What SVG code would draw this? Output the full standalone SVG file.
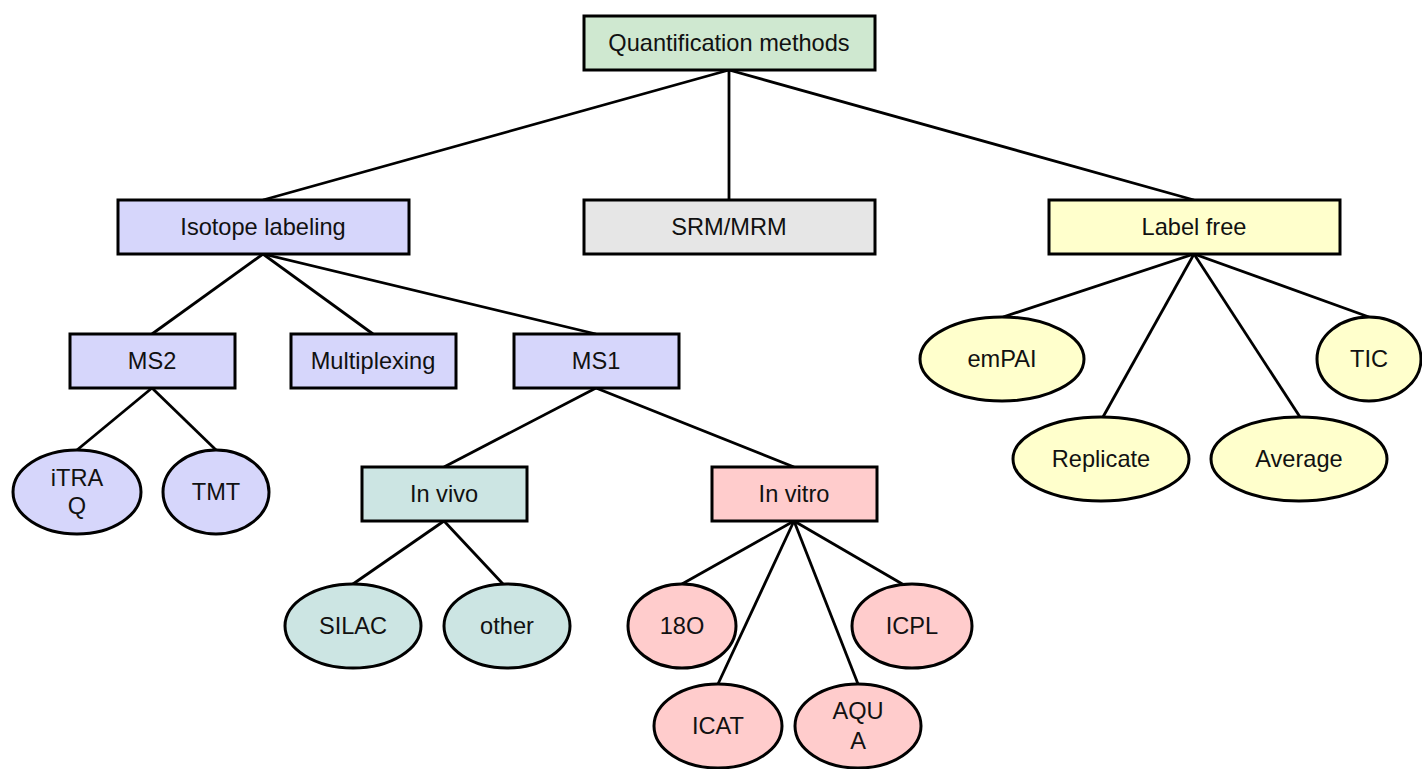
<svg xmlns="http://www.w3.org/2000/svg" width="1422" height="769" viewBox="0 0 1422 769">
<style>
.n{stroke:#000;stroke-width:3}
.t{font-family:"Liberation Sans",Arial,sans-serif;font-size:23.6px;fill:#111;text-anchor:middle}
.c line{stroke:#000;stroke-width:2.8}
.g{fill:#cfe8d0}.p{fill:#d6d6fb}.s{fill:#e6e6e6}.y{fill:#ffffcc}.q{fill:#cce5e3}.r{fill:#ffcccc}
</style>
<rect width="1422" height="769" fill="#fff"/>
<g class="c" id="connectors">
<line x1="729" y1="70" x2="263" y2="200"/>
<line x1="729" y1="70" x2="729" y2="200"/>
<line x1="729" y1="70" x2="1194" y2="200"/>
<line x1="263" y1="254" x2="152" y2="334"/>
<line x1="263" y1="254" x2="373" y2="334"/>
<line x1="263" y1="254" x2="596" y2="334"/>
<line x1="152" y1="388" x2="77" y2="450"/>
<line x1="152" y1="388" x2="216" y2="450"/>
<line x1="596" y1="388" x2="444" y2="467"/>
<line x1="596" y1="388" x2="794" y2="467"/>
<line x1="444" y1="521" x2="353" y2="584"/>
<line x1="444" y1="521" x2="503" y2="584"/>
<line x1="794" y1="521" x2="682" y2="584"/>
<line x1="794" y1="521" x2="718" y2="684"/>
<line x1="794" y1="521" x2="858" y2="684"/>
<line x1="794" y1="521" x2="904" y2="585"/>
<line x1="1194" y1="254" x2="1003" y2="317"/>
<line x1="1194" y1="254" x2="1369" y2="317"/>
<line x1="1194" y1="254" x2="1103" y2="417"/>
<line x1="1194" y1="254" x2="1300" y2="417"/>
</g>
<g id="quant"><rect class="n g" x="584" y="16" width="291" height="54"/><text class="t" x="729" y="51">Quantification methods</text></g>
<g id="isotope"><rect class="n p" x="118" y="200" width="291" height="54"/><text class="t" x="263" y="235">Isotope labeling</text></g>
<g id="srm"><rect class="n s" x="584" y="200" width="291" height="54"/><text class="t" x="729" y="235">SRM/MRM</text></g>
<g id="labelfree"><rect class="n y" x="1049" y="200" width="291" height="54"/><text class="t" x="1194" y="235">Label free</text></g>
<g id="ms2"><rect class="n p" x="70" y="334" width="165" height="54"/><text class="t" x="152" y="369">MS2</text></g>
<g id="multiplexing"><rect class="n p" x="291" y="334" width="165" height="54"/><text class="t" x="373" y="369">Multiplexing</text></g>
<g id="ms1"><rect class="n p" x="514" y="334" width="165" height="54"/><text class="t" x="596" y="369">MS1</text></g>
<g id="itraq"><ellipse class="n p" cx="77" cy="492" rx="64" ry="42"/><text class="t" x="77" y="486">iTRA</text><text class="t" x="77" y="514">Q</text></g>
<g id="tmt"><ellipse class="n p" cx="216" cy="492" rx="53" ry="42"/><text class="t" x="216" y="500">TMT</text></g>
<g id="invivo"><rect class="n q" x="362" y="467" width="165" height="54"/><text class="t" x="444" y="502">In vivo</text></g>
<g id="invitro"><rect class="n r" x="712" y="467" width="165" height="54"/><text class="t" x="794" y="502">In vitro</text></g>
<g id="silac"><ellipse class="n q" cx="353" cy="626" rx="68" ry="42"/><text class="t" x="353" y="634">SILAC</text></g>
<g id="other"><ellipse class="n q" cx="507" cy="626" rx="63" ry="42"/><text class="t" x="507" y="634">other</text></g>
<g id="o18"><ellipse class="n r" cx="682" cy="626" rx="54" ry="42"/><text class="t" x="682" y="634">18O</text></g>
<g id="icpl"><ellipse class="n r" cx="912" cy="626" rx="60" ry="42"/><text class="t" x="912" y="634">ICPL</text></g>
<g id="icat"><ellipse class="n r" cx="718" cy="726" rx="64" ry="42"/><text class="t" x="718" y="734">ICAT</text></g>
<g id="aqua"><ellipse class="n r" cx="858" cy="726" rx="63" ry="42"/><text class="t" x="858" y="719">AQU</text><text class="t" x="858" y="749">A</text></g>
<g id="empai"><ellipse class="n y" cx="1002" cy="359" rx="82" ry="42"/><text class="t" x="1002" y="367">emPAI</text></g>
<g id="tic"><ellipse class="n y" cx="1369" cy="359" rx="52" ry="42"/><text class="t" x="1369" y="367">TIC</text></g>
<g id="replicate"><ellipse class="n y" cx="1101" cy="459" rx="88" ry="42"/><text class="t" x="1101" y="467">Replicate</text></g>
<g id="average"><ellipse class="n y" cx="1299" cy="459" rx="88" ry="42"/><text class="t" x="1299" y="467">Average</text></g>
</svg>
